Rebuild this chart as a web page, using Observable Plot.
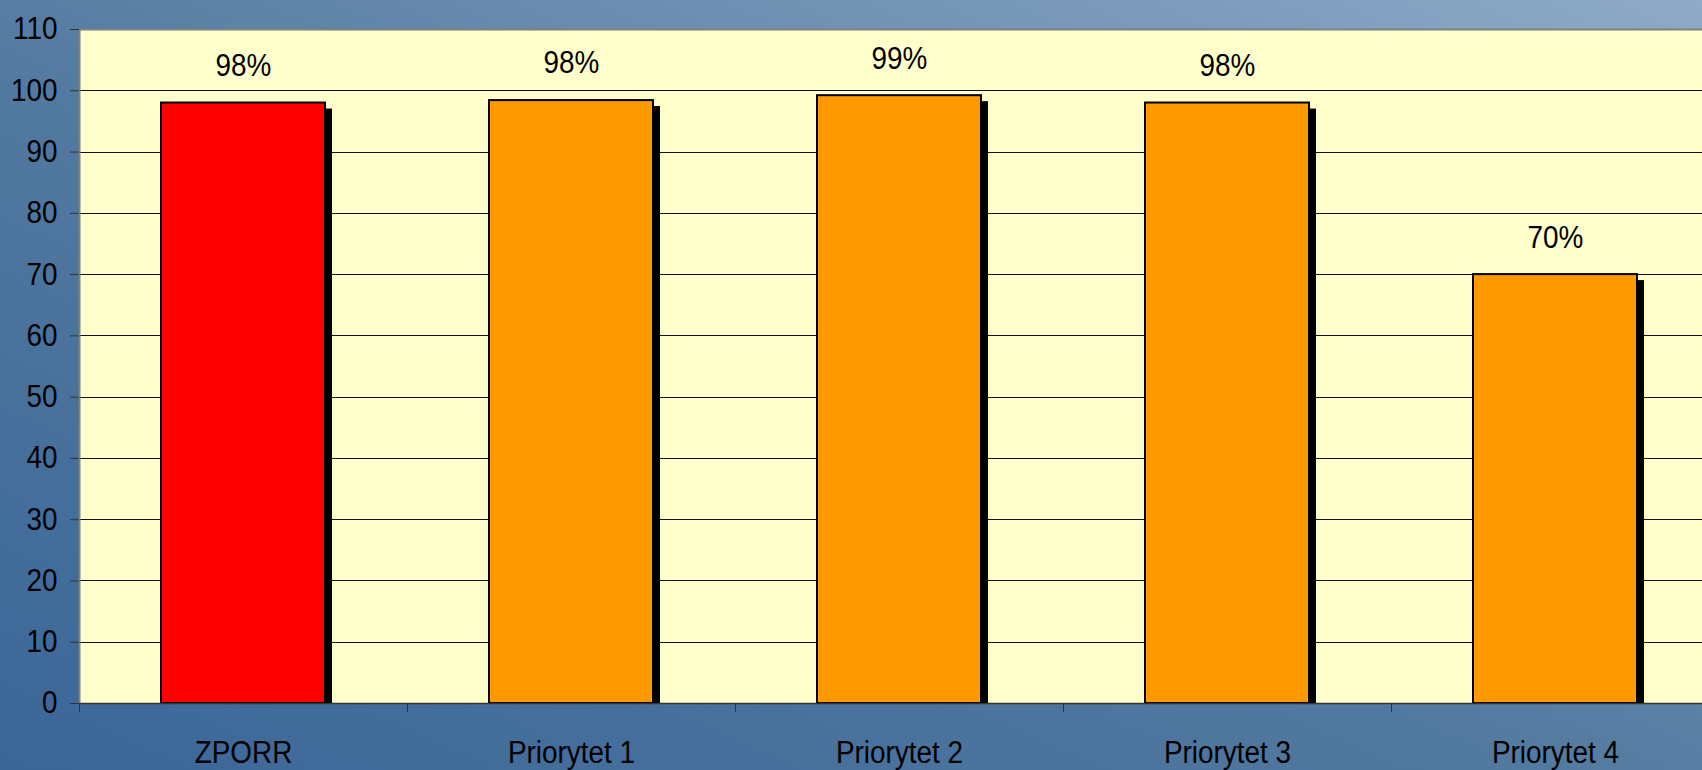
<!DOCTYPE html>
<html>
<head>
<meta charset="utf-8">
<script src="https://cdn.jsdelivr.net/npm/d3@7"></script>
<script src="https://cdn.jsdelivr.net/npm/@observablehq/plot@0.6"></script>
<style>
  html, body { margin: 0; padding: 0; width: 1702px; height: 770px; overflow: hidden; }
  body { background: linear-gradient(to top right, #3a6698 0%, #52799f 45%, #8eaac8 100%); }
  #chart svg { display: block; overflow: hidden; background: transparent; }
</style>
</head>
<body>
<div id="chart"></div>
<script>
const categories = ["ZPORR", "Priorytet 1", "Priorytet 2", "Priorytet 3", "Priorytet 4"];
const values = [98.0, 98.4, 99.2, 98.0, 70.0];
const labels = ["98%", "98%", "99%", "98%", "70%"];
const colors = ["#ff0000", "#ff9900", "#ff9900", "#ff9900", "#ff9900"];
const yTicks = [0, 10, 20, 30, 40, 50, 60, 70, 80, 90, 100, 110];
const gridTicks = [10, 20, 30, 40, 50, 60, 70, 80, 90, 100];

const data = categories.map((c, i) => ({cat: c, value: values[i], label: labels[i], color: colors[i]}));

const width = 1702, height = 770;
const marginLeft = 79, marginRight = -17;
const step = (width - marginLeft - marginRight) / categories.length;
const fs = 31;

const plot = Plot.plot({
  width, height,
  marginLeft, marginRight,
  marginTop: 29, marginBottom: 67,
  style: {fontFamily: "'Liberation Sans', Arial, sans-serif", fontSize: fs + "px", color: "#000", background: "transparent", overflow: "hidden"},
  x: {domain: categories, paddingInner: 0.5, paddingOuter: 0.25, align: 0.5, label: null},
  y: {domain: [0, 110], label: null},
  color: {type: "identity"},
  marks: [
    Plot.frame({fill: "#ffffcc", stroke: null}),
    Plot.gridY(gridTicks, {stroke: "#111", strokeOpacity: 1, strokeWidth: 1, shapeRendering: "crispEdges"}),
    Plot.ruleY([110], {stroke: "#808080", strokeWidth: 2}),
    Plot.frame({anchor: "left", stroke: "#808080", strokeWidth: 2}),
    Plot.barY(data, {x: "cat", y: "value", fill: "#000", dx: 7, insetTop: 6}),
    Plot.barY(data, {x: "cat", y: "value", fill: "color", stroke: "#000", strokeWidth: 2}),
    Plot.ruleY([0], {stroke: "#333", strokeWidth: 1.5}),
    Plot.axisY({ticks: yTicks, tickSize: 9, tickPadding: 13, fontSize: fs, stroke: "#333", label: null}),
    Plot.axisX({tickSize: 9, dx: -step / 2, text: null, stroke: "#333", label: null}),
    Plot.axisX({tickSize: 0, tickPadding: 37, fontSize: fs, label: null}),
    Plot.text(data, {x: "cat", y: "value", text: "label", dy: -37, fontSize: fs, fill: "#000", lineAnchor: "middle"})
  ]
});
document.getElementById("chart").appendChild(plot);
// Condense glyphs horizontally to mimic the tall, narrow lettering of the original
plot.querySelectorAll("text").forEach(t => {
  const w = t.getComputedTextLength();
  if (w > 0) {
    t.setAttribute("textLength", (w * 0.9).toFixed(1));
    t.setAttribute("lengthAdjust", "spacingAndGlyphs");
  }
});
</script>
</body>
</html>
